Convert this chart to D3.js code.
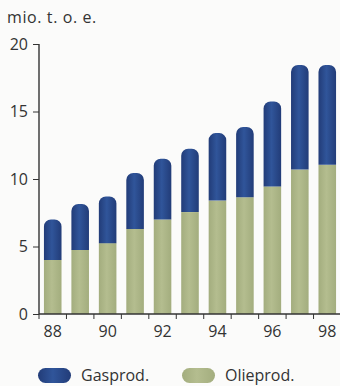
<!DOCTYPE html>
<html>
<head>
<meta charset="utf-8">
<script src="https://cdn.jsdelivr.net/npm/d3@7"></script>
<style>
  html, body { margin: 0; padding: 0; background: #fbfbfa; }
  svg { display: block; }
  text { font-family: "Open Sans", "Noto Sans", sans-serif; fill: #333; }
</style>
</head>
<body>
<svg id="chart" width="340" height="386"></svg>
<script>
// Production per year, million tonnes oil equivalent
const years = ["88", "89", "90", "91", "92", "93", "94", "95", "96", "97", "98"];
const oilProd = [4.0, 4.75, 5.25, 6.3, 7.0, 7.55, 8.4, 8.65, 9.45, 10.7, 11.05];
const gasProd = [3.0, 3.4, 3.45, 4.15, 4.5, 4.7, 5.0, 5.2, 6.3, 7.75, 7.4];
const yTicks = [0, 5, 10, 15, 20];
const xLabels = ["88", "90", "92", "94", "96", "98"];
const seriesNames = ["Gasprod.", "Olieprod."];
const unitLabel = "mio. t. o. e.";

const svg = d3.select("#chart");
const defs = svg.append("defs");

// cylinder-like shading across each bar
function hGradient(id, edge, mid) {
  const g = defs.append("linearGradient").attr("id", id)
    .attr("x1", "0%").attr("x2", "100%").attr("y1", "0%").attr("y2", "0%");
  g.append("stop").attr("offset", "0%").attr("stop-color", edge);
  g.append("stop").attr("offset", "45%").attr("stop-color", mid);
  g.append("stop").attr("offset", "100%").attr("stop-color", edge);
}
hGradient("gasGrad", "#223c78", "#30559a");
hGradient("oilGrad", "#a3ad7e", "#b4bd8f");

const x = d3.scaleBand().domain(years).range([39, 341]).paddingInner(0.36).paddingOuter(0.18);
const step = x.step();
const y = d3.scaleLinear().domain([0, 20]).range([314, 44]);

// stacked bars: oil at the bottom, gas on top with a rounded cap
const r = 7;
years.forEach((yr, i) => {
  const x0 = x(yr), w = x.bandwidth();
  const oilTop = y(oilProd[i]);
  const total = oilProd[i] + gasProd[i];
  const top = y(total);
  svg.append("rect")
    .attr("x", x0).attr("y", oilTop)
    .attr("width", w).attr("height", y(0) - oilTop)
    .attr("fill", "url(#oilGrad)");
  const p = d3.path();
  p.moveTo(x0, oilTop);
  p.lineTo(x0, top + r);
  p.arcTo(x0, top, x0 + r, top, r);
  p.lineTo(x0 + w - r, top);
  p.arcTo(x0 + w, top, x0 + w, top + r, r);
  p.lineTo(x0 + w, oilTop);
  p.closePath();
  svg.append("path").attr("d", p.toString()).attr("fill", "url(#gasGrad)");
});

// y axis
const yAxis = svg.append("g").attr("transform", "translate(39,0)")
  .call(d3.axisLeft(y).tickValues(yTicks).tickSize(6).tickPadding(5).tickFormat(d3.format("d")));
yAxis.select(".domain").attr("d", `M0,${y(20)}V${y(0)}`).attr("stroke", "#333").attr("stroke-width", 1.4);
yAxis.selectAll(".tick line").attr("stroke", "#333");
yAxis.selectAll(".tick text").style("font-size", "16px").attr("fill", "#333");

// x axis: ticks at band boundaries, labels every other year
const xAxis = svg.append("g").attr("transform", `translate(0,${y(0)})`);
xAxis.append("line").attr("x1", 39).attr("x2", 340).attr("stroke", "#333").attr("stroke-width", 1.4);
xAxis.selectAll("line.tk").data(years).join("line").attr("class", "tk")
  .attr("x1", d => x(d) - (step - x.bandwidth()) / 2)
  .attr("x2", d => x(d) - (step - x.bandwidth()) / 2)
  .attr("y1", 0).attr("y2", 5).attr("stroke", "#333");
xAxis.selectAll("text").data(xLabels).join("text")
  .attr("x", d => x(d) + x.bandwidth() / 2).attr("y", 23)
  .attr("text-anchor", "middle").style("font-size", "16px").text(d => d);

// unit label
svg.append("text").attr("x", 7).attr("y", 23)
  .style("font-size", "16px").style("letter-spacing", "0.6px").text(unitLabel);

// legend
const legendX = [38, 182];
const legendFill = ["url(#gasGrad)", "url(#oilGrad)"];
seriesNames.forEach((name, i) => {
  const g = svg.append("g").attr("transform", `translate(${legendX[i]},368)`);
  g.append("rect").attr("width", 33).attr("height", 15).attr("rx", 7.5).attr("fill", legendFill[i]);
  g.append("text").attr("x", 43).attr("y", 13).style("font-size", "16px").text(name);
});
</script>
</body>
</html>
